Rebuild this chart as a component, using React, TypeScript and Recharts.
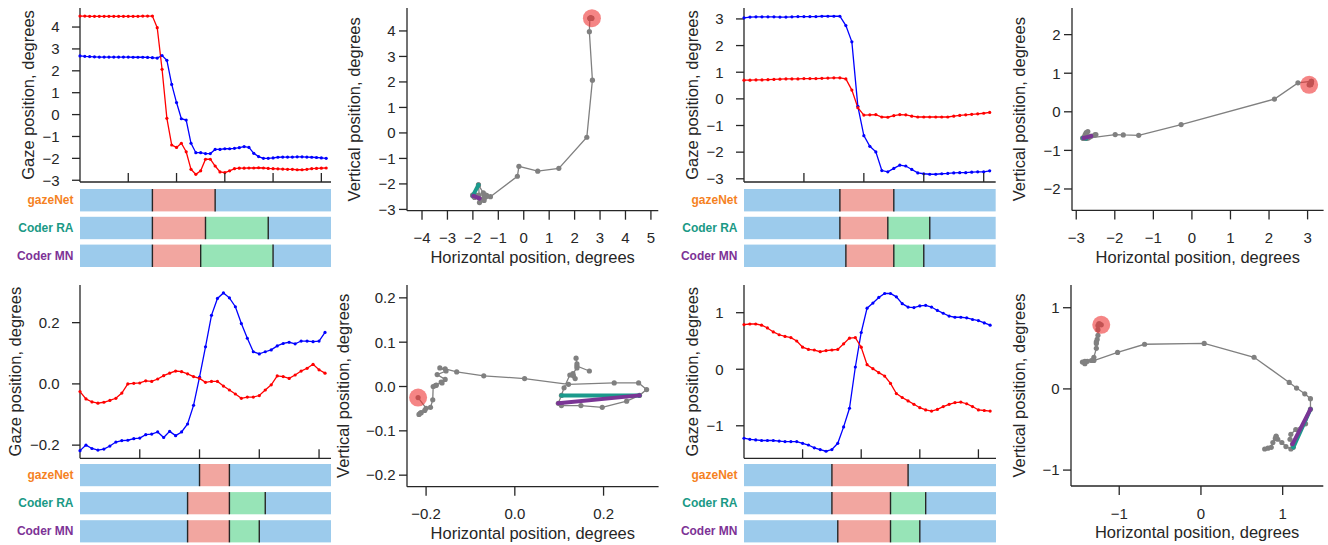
import React from 'react';
import { LineChart, Line, XAxis, YAxis, ScatterChart, Scatter, BarChart, Bar, Cell } from 'recharts';

const FONT = '"Liberation Sans", Arial, sans-serif';
const INK = '#262626';

const EVENT_COLORS: Record<string, string> = { fix: '#9ccbec', sac: '#f2a6a0', pso: '#97e4b7' };
const CODER_COLORS: Record<string, string> = { gazeNet: '#f5821f', 'Coder RA': '#1a9985', 'Coder MN': '#7d3296' };
const SEG_RA = '#1b9a8c';
const SEG_MN = '#7a3595';

// ---------- Trial 1 ----------
const t1Hor = [2.68, 2.66, 2.65, 2.64, 2.63, 2.63, 2.63, 2.63, 2.63, 2.63, 2.63, 2.62, 2.62, 2.62, 2.61, 2.6, 2.58,
  2.7, 2.48, 1.38, 0.55, -0.19, -0.25, -1.31, -1.74, -1.74, -1.78, -1.78, -1.59, -1.59, -1.56, -1.56, -1.54, -1.51,
  -1.46, -1.5, -1.77, -1.92, -2.0, -2.0, -1.98, -1.95, -1.94, -1.94, -1.94, -1.93, -1.93, -1.94, -1.95, -1.96, -1.98, -2.0];
const t1Ver = [4.5, 4.5, 4.49, 4.49, 4.49, 4.49, 4.49, 4.49, 4.49, 4.49, 4.49, 4.49, 4.49, 4.5, 4.5, 4.5,
  3.97, 2.07, -0.17, -1.39, -1.5, -1.31, -1.7, -2.5, -2.73, -2.57, -2.04, -2.04, -2.35, -2.62, -2.65, -2.57, -2.47,
  -2.45, -2.45, -2.44, -2.44, -2.43, -2.44, -2.46, -2.47, -2.48, -2.49, -2.5, -2.5, -2.52, -2.52, -2.5, -2.47, -2.46, -2.45, -2.44];
const t1Events = [
  { coder: 'gazeNet', segs: [['fix', 0, 15], ['sac', 15, 28], ['fix', 28, 52]] },
  { coder: 'Coder RA', segs: [['fix', 0, 15], ['sac', 15, 26], ['pso', 26, 39], ['fix', 39, 52]] },
  { coder: 'Coder MN', segs: [['fix', 0, 15], ['sac', 15, 25], ['pso', 25, 40], ['fix', 40, 52]] },
];

// ---------- Trial 2 ----------
const t2Hor = [3.04, 3.07, 3.08, 3.08, 3.08, 3.08, 3.07, 3.07, 3.08, 3.09, 3.09, 3.09, 3.09, 3.1, 3.1, 3.1, 3.1,
  2.75, 2.14, -0.28, -1.38, -1.78, -1.99, -2.69, -2.74, -2.61, -2.49, -2.52, -2.65, -2.78, -2.81, -2.83, -2.83,
  -2.81, -2.8, -2.78, -2.77, -2.77, -2.75, -2.74, -2.74, -2.7];
const t2Ver = [0.7, 0.7, 0.71, 0.71, 0.72, 0.73, 0.74, 0.75, 0.75, 0.75, 0.76, 0.76, 0.76, 0.77, 0.78, 0.79, 0.79,
  0.75, 0.33, -0.33, -0.61, -0.6, -0.59, -0.68, -0.69, -0.63, -0.59, -0.6, -0.65, -0.68, -0.68, -0.68, -0.68,
  -0.68, -0.68, -0.65, -0.62, -0.6, -0.58, -0.56, -0.54, -0.51];
const t2Events = [
  { coder: 'gazeNet', segs: [['fix', 0, 16], ['sac', 16, 25], ['fix', 25, 42]] },
  { coder: 'Coder RA', segs: [['fix', 0, 16], ['sac', 16, 24], ['pso', 24, 31], ['fix', 31, 42]] },
  { coder: 'Coder MN', segs: [['fix', 0, 17], ['sac', 17, 25], ['pso', 25, 30], ['fix', 30, 42]] },
];

// ---------- Trial 3 ----------
const t3Hor = [-0.218, -0.2, -0.211, -0.216, -0.213, -0.203, -0.19, -0.185, -0.184, -0.179, -0.177, -0.166, -0.164,
  -0.157, -0.175, -0.155, -0.169, -0.157, -0.131, -0.07, 0.022, 0.121, 0.224, 0.279, 0.297, 0.281, 0.252, 0.197,
  0.149, 0.105, 0.098, 0.105, 0.111, 0.124, 0.132, 0.136, 0.131, 0.14, 0.14, 0.138, 0.14, 0.168];
const t3Ver = [-0.025, -0.049, -0.059, -0.063, -0.06, -0.054, -0.047, -0.03, 0.0, 0.002, 0.003, 0.01, 0.008, 0.016,
  0.027, 0.035, 0.042, 0.04, 0.033, 0.024, 0.018, 0.005, 0.008, 0.008, -0.007, -0.02, -0.033, -0.047, -0.043,
  -0.043, -0.038, -0.02, -0.003, 0.026, 0.024, 0.018, 0.029, 0.042, 0.051, 0.064, 0.046, 0.035];
const t3Events = [
  { coder: 'gazeNet', segs: [['fix', 0, 20], ['sac', 20, 25], ['fix', 25, 42]] },
  { coder: 'Coder RA', segs: [['fix', 0, 18], ['sac', 18, 25], ['pso', 25, 31], ['fix', 31, 42]] },
  { coder: 'Coder MN', segs: [['fix', 0, 18], ['sac', 18, 25], ['pso', 25, 30], ['fix', 30, 42]] },
];

// ---------- Trial 4 ----------
const t4Hor = [-1.22, -1.24, -1.25, -1.26, -1.26, -1.26, -1.27, -1.28, -1.28, -1.28, -1.31, -1.34, -1.39, -1.42,
  -1.45, -1.42, -1.31, -1.02, -0.69, 0.04, 0.65, 1.08, 1.17, 1.27, 1.34, 1.34, 1.28, 1.16, 1.1, 1.09, 1.12, 1.13,
  1.1, 1.04, 0.99, 0.94, 0.92, 0.92, 0.91, 0.88, 0.86, 0.82, 0.78];
const t4Ver = [0.79, 0.8, 0.8, 0.78, 0.73, 0.66, 0.61, 0.58, 0.56, 0.5, 0.39, 0.35, 0.34, 0.31, 0.33, 0.34, 0.35,
  0.45, 0.55, 0.56, 0.39, 0.08, 0.01, -0.06, -0.12, -0.25, -0.43, -0.5, -0.56, -0.62, -0.68, -0.72, -0.74, -0.71,
  -0.66, -0.62, -0.59, -0.58, -0.61, -0.66, -0.72, -0.73, -0.74];
const t4Events = [
  { coder: 'gazeNet', segs: [['fix', 0, 15], ['sac', 15, 28], ['fix', 28, 43]] },
  { coder: 'Coder RA', segs: [['fix', 0, 15], ['sac', 15, 25], ['pso', 25, 31], ['fix', 31, 43]] },
  { coder: 'Coder MN', segs: [['fix', 0, 16], ['sac', 16, 25], ['pso', 25, 30], ['fix', 30, 43]] },
];

const fmt = (dec: number) => (v: number) => (v < 0 ? '\u2212' : '') + Math.abs(v).toFixed(dec);
const tickStyle = { fill: INK, fontSize: 15, fontFamily: FONT };
const labelStyle = { textAnchor: 'middle' as const, fill: INK, fontSize: 16.5, fontFamily: FONT };
const axisLineStyle = { stroke: INK, strokeWidth: 1.3 };

const InTick = (props: any) => {
  const { x, y } = props;
  return <line x1={x} x2={x} y1={y} y2={y - 9} stroke={INK} strokeWidth={1.3} />;
};

function TimeSeries(p: any) {
  const { hor, ver, n, px, py, pw, ph, yDomain, yTicks, dec, labelCx } = p;
  const data = hor.map((h: number, i: number) => ({ i, h, v: ver[i] }));
  const xticks: number[] = [];
  for (let t = 10; t < n; t += 10) xticks.push(t);
  const left = px - 80;
  return (
    <div style={{ position: 'absolute', left, top: py - 5 }}>
      <LineChart width={80 + pw + 5} height={5 + ph + 12} data={data} margin={{ top: 5, right: 5, bottom: 0, left: 0 }}>
        <XAxis type="number" dataKey="i" domain={[0, n]} ticks={xticks} height={12} tickSize={0} tickMargin={0}
          tickLine={false} tick={<InTick />} axisLine={axisLineStyle} interval={0} />
        <YAxis type="number" domain={yDomain} ticks={yTicks} width={80} tickSize={8} tickMargin={12.5}
          tickLine={axisLineStyle} axisLine={axisLineStyle} tick={tickStyle} tickFormatter={fmt(dec)} interval={0}
          label={{ value: 'Gaze position, degrees', angle: -90, position: 'insideLeft', offset: labelCx - left, style: labelStyle }} />
        <Line dataKey="h" stroke="#0000ff" strokeWidth={1.3} dot={{ r: 1.6, fill: '#0000ff', stroke: '#0000ff', strokeWidth: 0 }} isAnimationActive={false} />
        <Line dataKey="v" stroke="#ff0000" strokeWidth={1.3} dot={{ r: 1.6, fill: '#ff0000', stroke: '#ff0000', strokeWidth: 0 }} isAnimationActive={false} />
      </LineChart>
    </div>
  );
}

const CoderTick = (props: any) => {
  const { x, y, payload } = props;
  return (
    <text x={x} y={y} dy="0.35em" textAnchor="end" fill={CODER_COLORS[payload.value]} fontWeight="bold" fontSize={12} fontFamily={FONT}>
      {payload.value}
    </text>
  );
};

const SegShape = (props: any) => {
  const { x, y, width, height, fill, divider } = props;
  if (!width || width <= 0) return <g />;
  return (
    <g>
      <rect x={x} y={y} width={width} height={height} fill={fill} />
      {divider && <line x1={x} x2={x} y1={y} y2={y + height} stroke={INK} strokeWidth={1.4} />}
    </g>
  );
};

function EventBars(p: any) {
  const { rows, n, px, top, pw, pitch, barH } = p;
  const data = rows.map((r: any) => {
    const o: any = { name: r.coder };
    r.segs.forEach((s: any, k: number) => { o['s' + k] = s[2] - s[1]; o['t' + k] = s[0]; });
    return o;
  });
  const maxSegs = Math.max(...rows.map((r: any) => r.segs.length));
  return (
    <div style={{ position: 'absolute', left: px - 80, top }}>
      <BarChart layout="vertical" width={80 + pw + 5} height={pitch * 3} data={data} barSize={barH}
        margin={{ top: 0, right: 5, bottom: 0, left: 0 }}>
        <XAxis type="number" domain={[0, n]} hide />
        <YAxis type="category" dataKey="name" width={80} axisLine={false} tickLine={false} tickSize={0} tickMargin={6.5}
          tick={<CoderTick />} interval={0} />
        {Array.from({ length: maxSegs }).map((_, k) => (
          <Bar key={k} dataKey={'s' + k} stackId="ev" isAnimationActive={false}
            shape={(sp: any) => <SegShape {...sp} divider={k > 0} />}>
            {data.map((d: any, j: number) => <Cell key={j} fill={EVENT_COLORS[d['t' + k]] || 'none'} />)}
          </Bar>
        ))}
      </BarChart>
    </div>
  );
}

const GrayDot = (p: any) => <circle cx={p.cx} cy={p.cy} r={2.6} fill="#808080" />;
const StartDot = (p: any) => <circle cx={p.cx} cy={p.cy} r={9} fill="#ee3333" fillOpacity={0.6} />;
const mkCap = (c: string) => (p: any) => <circle cx={p.cx} cy={p.cy} r={2} fill={c} />;

function Trajectory(p: any) {
  const { hor, ver, events, px, py, pw, ph, xDomain, yDomain, xTicks, yTicks, dec, labelCx } = p;
  const pts = hor.map((h: number, i: number) => ({ x: h, y: ver[i] }));
  const psoOf = (coder: string) => {
    const row = events.find((r: any) => r.coder === coder);
    const s = row.segs.find((q: any) => q[0] === 'pso');
    return [pts[s[1]], pts[s[2]]];
  };
  const left = px - 80;
  return (
    <div style={{ position: 'absolute', left, top: py - 5 }}>
      <ScatterChart width={80 + pw + 5} height={5 + ph + 60} margin={{ top: 5, right: 5, bottom: 0, left: 0 }}>
        <XAxis type="number" dataKey="x" domain={xDomain} ticks={xTicks} height={60} tickSize={9} tickMargin={13}
          tickLine={axisLineStyle} axisLine={axisLineStyle} tick={tickStyle} tickFormatter={fmt(dec)} interval={0}
          label={{ value: 'Horizontal position, degrees', position: 'insideBottom', offset: 7.8, style: labelStyle }} />
        <YAxis type="number" dataKey="y" domain={yDomain} ticks={yTicks} width={80} tickSize={8} tickMargin={3.5}
          tickLine={axisLineStyle} axisLine={axisLineStyle} tick={tickStyle} tickFormatter={fmt(dec)} interval={0}
          label={{ value: 'Vertical position, degrees', angle: -90, position: 'insideLeft', offset: labelCx - left, style: labelStyle }} />
        <Scatter data={pts} line={{ stroke: '#808080', strokeWidth: 1.3 }} lineType="joint" shape={GrayDot} isAnimationActive={false} />
        <Scatter data={psoOf('Coder RA')} line={{ stroke: SEG_RA, strokeWidth: 4, strokeLinecap: 'round' }} lineType="joint" shape={mkCap(SEG_RA)} isAnimationActive={false} />
        <Scatter data={psoOf('Coder MN')} line={{ stroke: SEG_MN, strokeWidth: 4, strokeLinecap: 'round' }} lineType="joint" shape={mkCap(SEG_MN)} isAnimationActive={false} />
        <Scatter data={[pts[0]]} shape={StartDot} isAnimationActive={false} />
      </ScatterChart>
    </div>
  );
}

export default function App() {
  return (
    <div style={{ position: 'absolute', left: 0, top: 0, width: 1328, height: 545, overflow: 'hidden', background: '#fff', fontFamily: FONT }}>
      <TimeSeries hor={t1Hor} ver={t1Ver} n={52} px={80} py={8.3} pw={251} ph={174} yDomain={[-3.08, 4.87]}
        yTicks={[-3, -2, -1, 0, 1, 2, 3, 4]} dec={0} labelCx={27.8} />
      <EventBars rows={t1Events} n={52} px={80} top={185.5} pw={251} pitch={27.8} barH={22.4} />
      <Trajectory hor={t1Hor} ver={t1Ver} events={t1Events} px={406.7} py={8} pw={251.3} ph={202.7}
        xDomain={[-4.59, 5.29]} yDomain={[-3.05, 4.9]} xTicks={[-4, -3, -2, -1, 0, 1, 2, 3, 4, 5]}
        yTicks={[-3, -2, -1, 0, 1, 2, 3, 4]} dec={0} labelCx={354} />

      <TimeSeries hor={t2Hor} ver={t2Ver} n={42} px={744.3} py={8.3} pw={251.7} ph={174} yDomain={[-3.12, 3.41]}
        yTicks={[-3, -2, -1, 0, 1, 2, 3]} dec={0} labelCx={692.5} />
      <EventBars rows={t2Events} n={42} px={744.3} top={185.5} pw={251.7} pitch={27.8} barH={22.4} />
      <Trajectory hor={t2Hor} ver={t2Ver} events={t2Events} px={1071.7} py={8.3} pw={251.6} ph={202.4}
        xDomain={[-3.11, 3.415]} yDomain={[-2.555, 2.69]} xTicks={[-3, -2, -1, 0, 1, 2, 3]}
        yTicks={[-2, -1, 0, 1, 2]} dec={0} labelCx={1019} />

      <TimeSeries hor={t3Hor} ver={t3Ver} n={42} px={80} py={285} pw={251} ph={173.3} yDomain={[-0.243, 0.323]}
        yTicks={[-0.2, 0, 0.2]} dec={1} labelCx={14.8} />
      <EventBars rows={t3Events} n={42} px={80} top={461.45} pw={251} pitch={28.1} barH={22.2} />
      <Trajectory hor={t3Hor} ver={t3Ver} events={t3Events} px={406.7} py={285} pw={251.6} ph={201.7}
        xDomain={[-0.243, 0.324]} yDomain={[-0.226, 0.229]} xTicks={[-0.2, 0, 0.2]}
        yTicks={[-0.2, -0.1, 0, 0.1, 0.2]} dec={1} labelCx={342.7} />

      <TimeSeries hor={t4Hor} ver={t4Ver} n={43} px={744} py={285} pw={252} ph={173.3} yDomain={[-1.575, 1.49]}
        yTicks={[-1, 0, 1]} dec={0} labelCx={692.5} />
      <EventBars rows={t4Events} n={43} px={744} top={461.45} pw={252} pitch={28.1} barH={22.2} />
      <Trajectory hor={t4Hor} ver={t4Ver} events={t4Events} px={1071} py={285} pw={252.3} ph={201}
        xDomain={[-1.59, 1.497]} yDomain={[-1.196, 1.28]} xTicks={[-1, 0, 1]}
        yTicks={[-1, 0, 1]} dec={0} labelCx={1019} />
    </div>
  );
}
